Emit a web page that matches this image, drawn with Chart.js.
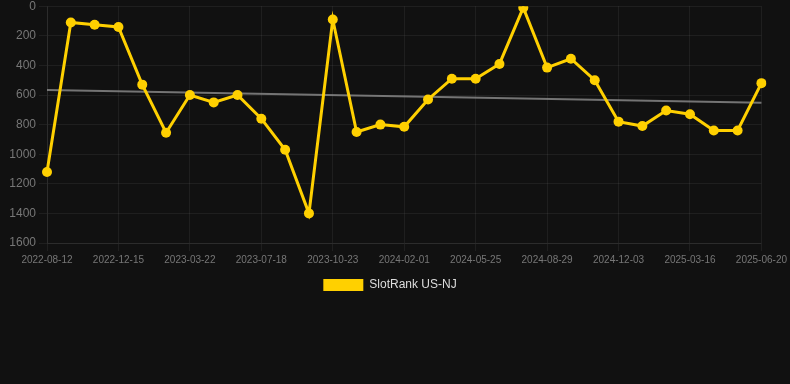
<!DOCTYPE html>
<html>
<head>
<meta charset="utf-8">
<script src="https://cdn.jsdelivr.net/npm/chart.js@4/dist/chart.umd.min.js"></script>
<style>
  html, body { margin: 0; padding: 0; background: #111111; overflow: hidden; }
  #wrap { width: 790px; height: 305px; position: relative; top: -4px; }
</style>
</head>
<body>
<div id="wrap"><canvas id="c"></canvas></div>
<script>
const dates = [
  '2022-08-12','2022-09-20','2022-10-28','2022-12-15','2023-01-18','2023-02-20',
  '2023-03-22','2023-04-30','2023-06-08','2023-07-18','2023-08-22','2023-09-25',
  '2023-10-23','2023-11-28','2023-12-30','2024-02-01','2024-03-10','2024-04-18',
  '2024-05-25','2024-06-28','2024-07-30','2024-08-29','2024-09-30','2024-11-01',
  '2024-12-03','2025-01-06','2025-02-10','2025-03-16','2025-04-20','2025-05-22',
  '2025-06-20'
];
const ranks = [
  1120, 110, 125, 140, 530, 855,
  600, 650, 600, 760, 970, 1400,
  90, 850, 800, 815, 630, 490,
  490, 390, 10, 415, 355, 500,
  780, 810, 705, 730, 840, 840,
  520
];
const trendStart = 567;
const trendEnd = 653;
const yTicks = [0, 200, 400, 600, 800, 1000, 1200, 1400, 1600];
const seriesName = 'SlotRank US-NJ';

const gridCol = 'rgba(255,255,255,0.06)';
const labelEvery = 3;
const yellow = '#FFD000';

new Chart(document.getElementById('c'), {
  type: 'line',
  data: {
    labels: dates,
    datasets: [
      {
        label: seriesName,
        data: ranks,
        borderColor: yellow,
        backgroundColor: yellow,
        borderWidth: 3,
        pointRadius: 5,
        pointHoverRadius: 5,
        pointBackgroundColor: yellow,
        pointBorderColor: yellow,
        pointBorderWidth: 0,
        tension: 0,
        order: 1
      },
      {
        label: 'trend',
        data: [{x: dates[0], y: trendStart}, {x: dates[dates.length - 1], y: trendEnd}],
        borderColor: 'rgba(150,150,150,0.75)',
        borderWidth: 2,
        pointRadius: 0,
        fill: false,
        order: 2
      }
    ]
  },
  options: {
    responsive: true,
    maintainAspectRatio: false,
    animation: false,
    layout: { padding: { left: 0, right: 10, top: 0, bottom: 0 } },
    plugins: {
      legend: {
        position: 'bottom',
        labels: {
          color: '#dddddd',
          font: { family: 'Liberation Sans, Arial, sans-serif', size: 12 },
          boxWidth: 40,
          boxHeight: 12,
          generateLabels: (chart) => [{
            text: seriesName,
            fillStyle: yellow,
            strokeStyle: yellow,
            lineWidth: 0,
            hidden: false,
            datasetIndex: 0,
            fontColor: '#dddddd'
          }]
        }
      },
      tooltip: { enabled: false }
    },
    scales: {
      x: {
        type: 'category',
        grid: {
          color: (ctx) => (ctx.index % labelEvery === 0 ? gridCol : 'rgba(0,0,0,0)'),
          tickColor: (ctx) => (ctx.index % labelEvery === 0 ? gridCol : 'rgba(0,0,0,0)')
        },
        border: { color: gridCol },
        ticks: {
          autoSkip: false,
          maxRotation: 0,
          minRotation: 0,
          color: '#777777',
          font: { family: 'Liberation Sans, Arial, sans-serif', size: 10 },
          callback: function (val, idx) { return idx % labelEvery === 0 ? this.getLabelForValue(val) : ''; }
        }
      },
      y: {
        reverse: true,
        min: yTicks[0],
        max: yTicks[yTicks.length - 1],
        afterFit: (axis) => { axis.width = 47; },
        grid: { color: gridCol, tickColor: gridCol },
        border: { color: gridCol },
        afterBuildTicks: (axis) => { axis.ticks = yTicks.map(v => ({ value: v })); },
        ticks: {
          color: '#777777',
          font: { family: 'Liberation Sans, Arial, sans-serif', size: 12 },
          callback: (v) => String(v)
        }
      }
    }
  }
});
</script>
</body>
</html>
